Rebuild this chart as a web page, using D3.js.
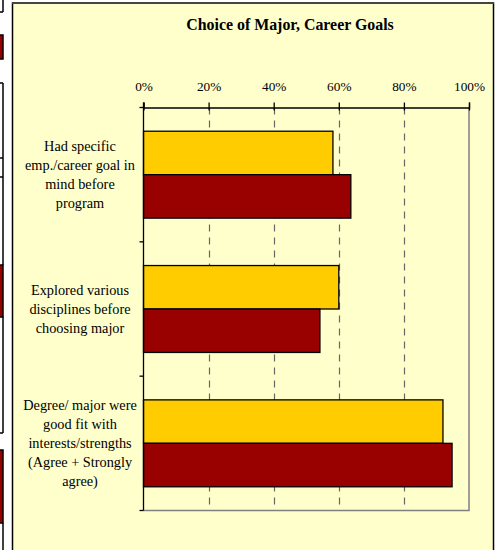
<!DOCTYPE html>
<html><head><meta charset="utf-8">
<script src="https://cdn.jsdelivr.net/npm/d3@7"></script>
<style>body{margin:0;background:#fff}svg{display:block}text{font-family:"Liberation Serif","Times New Roman",serif;fill:#000}</style>
</head><body>
<script>
const title = "Choice of Major, Career Goals";
const categories = [
  ["Had specific","emp./career goal in","mind before","program"],
  ["Explored various","disciplines before","choosing major"],
  ["Degree/ major were","good fit with","interests/strengths","(Agree + Strongly","agree)"]
];
const seriesNames = ["Series A","Series B"];
const seriesA = [58.2, 60.0, 92.0];
const seriesB = [63.7, 54.2, 94.8];
const tickValues = [0, 20, 40, 60, 80, 100];
const colors = ["#FFCC00", "#990000"];

(function(){
const W = 497, H = 550;
const svg = d3.select("body").append("svg").attr("width", W).attr("height", H);

// left strip artifacts from neighbouring content
const strip = svg.append("g").attr("stroke", "#000").attr("stroke-width", 1.5).attr("fill", "none");
[[35,59],[265,317],[450,523]].forEach(([a,b]) =>
  strip.append("rect").attr("x",-2).attr("y",a).attr("width",5).attr("height",b-a).attr("fill","#990000"));
[[0,12],[83,265],[317,433],[523,550]].forEach(([a,b]) =>
  strip.append("line").attr("x1",3).attr("x2",3).attr("y1",a).attr("y2",b));
[12,83,158,177,433].forEach(yy =>
  strip.append("line").attr("x1",0).attr("x2",3).attr("y1",yy).attr("y2",yy));

// chart frame
svg.append("rect").attr("x", 12.5).attr("y", 3).attr("width", 481).attr("height", 560)
  .attr("fill", "#FFFFCC").attr("stroke", "#000").attr("stroke-width", 1.5);
svg.append("line").attr("x1",12).attr("x2",494).attr("y1",3).attr("y2",3).attr("stroke","#444").attr("stroke-width",2);

svg.append("text").attr("x", 290).attr("y", 30).attr("text-anchor", "middle")
  .attr("font-weight", "bold").attr("font-size", 15.9).text(title);

const pl = 143.5, pr = 469, pt = 107.5, pb = 510.5;
const x = d3.scaleLinear().domain([0, 100]).range([pl, pr]);
const p = 0.353;
const y = d3.scaleBand().domain(d3.range(categories.length)).range([pt, pb]).paddingInner(p).paddingOuter(p/2);
const yBoundary = d3.scaleBand().domain(d3.range(categories.length)).range([pt, pb]);
const ys = d3.scaleBand().domain(seriesNames).range([0, y.bandwidth()]);

// plot area border (gray right/bottom)
svg.append("path").attr("d", `M${pr},${pt}V${pb}H${pl}`).attr("fill","none").attr("stroke","#808080").attr("stroke-width",1.5);

// gridlines
svg.append("g").selectAll("line").data(tickValues.filter(v => v > 0 && v < 100)).join("line")
  .attr("x1", d => Math.round(x(d)) + 0.5).attr("x2", d => Math.round(x(d)) + 0.5)
  .attr("y1", pt).attr("y2", pb).attr("stroke", "#666").attr("stroke-width", 1.2)
  .attr("stroke-dasharray", "7,6");

// bars
const vals = [seriesA, seriesB];
vals.forEach((arr, si) => {
  svg.append("g").selectAll("rect").data(arr).join("rect")
    .attr("x", x(0)).attr("y", (d, i) => y(i) + ys(seriesNames[si]))
    .attr("width", d => x(d) - x(0)).attr("height", ys.bandwidth())
    .attr("fill", colors[si]).attr("stroke", "#000").attr("stroke-width", 1.3);
});

// top axis
const xAxis = svg.append("g").attr("transform", `translate(0,${pt})`)
  .call(d3.axisTop(x).tickValues(tickValues).tickFormat(d => d + "%").tickSize(5).tickPadding(12));
xAxis.select(".domain").attr("stroke", "#000").attr("stroke-width", 1.3);
xAxis.selectAll(".tick line").attr("stroke", "#000").attr("stroke-width", 1.3).attr("y2", -5).attr("y1", 3);
xAxis.selectAll("text").attr("font-size", 13.3).attr("font-family", '"Liberation Serif",serif').attr("fill", "#000");

// left axis
svg.append("line").attr("x1", pl).attr("x2", pl).attr("y1", pt - 5).attr("y2", pb)
  .attr("stroke", "#000").attr("stroke-width", 1.3);
svg.append("g").selectAll("line").data(d3.range(categories.length + 1)).join("line")
  .attr("x1", pl - 4).attr("x2", pl)
  .attr("y1", d => d < categories.length ? yBoundary(d) : pb)
  .attr("y2", d => d < categories.length ? yBoundary(d) : pb)
  .attr("stroke", "#000").attr("stroke-width", 1.3);

// category labels
const lh = 19;
categories.forEach((lines, i) => {
  const cy = y(i) + y.bandwidth() / 2;
  const t = svg.append("text").attr("text-anchor", "middle").attr("font-size", 14.3);
  lines.forEach((ln, j) => {
    t.append("tspan").attr("x", 80).attr("y", cy + (j - (lines.length - 1) / 2) * lh + 5).text(ln);
  });
});
})();
</script>
</body></html>
